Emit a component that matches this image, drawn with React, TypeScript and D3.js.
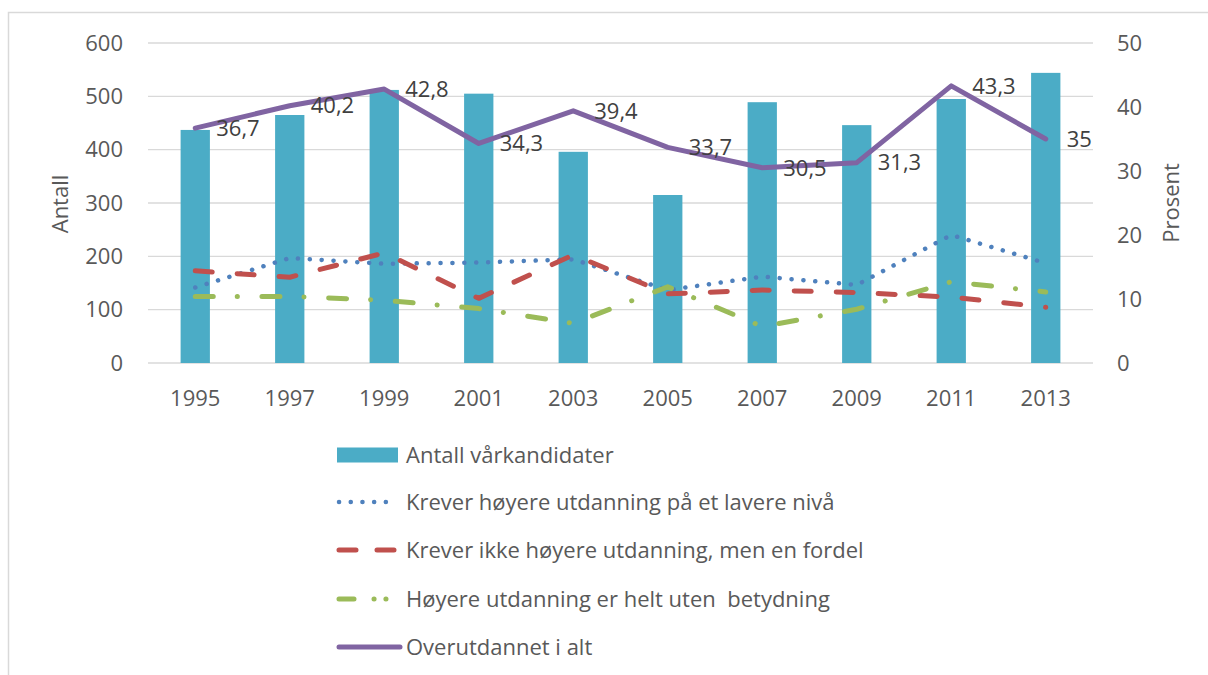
import React from "react";
import * as d3 from "d3";

const years = ["1995", "1997", "1999", "2001", "2003", "2005", "2007", "2009", "2011", "2013"];
const antall = [437, 465, 512, 505, 396, 315, 489, 446, 495, 544];
const laverNiva = [11.8, 16.4, 15.5, 15.7, 16.2, 11.4, 13.5, 12.2, 20.0, 15.6];
const ikkeMenFordel = [14.4, 13.4, 17.2, 10.1, 16.9, 10.8, 11.4, 11.0, 10.3, 8.7];
const utenBetydning = [10.4, 10.4, 9.8, 8.5, 6.2, 11.9, 5.7, 8.4, 12.7, 11.1];
const overutdannet = [36.7, 40.2, 42.8, 34.3, 39.4, 33.7, 30.5, 31.3, 43.3, 35];
const leftTicks = [0, 100, 200, 300, 400, 500, 600];
const rightTicks = [0, 10, 20, 30, 40, 50];
const legendLabels = [
  "Antall vårkandidater",
  "Krever høyere utdanning på et lavere nivå",
  "Krever ikke høyere utdanning, men en fordel",
  "Høyere utdanning er helt uten  betydning",
  "Overutdannet i alt",
];

const W = 1208;
const H = 675;
const FONT = "'Open Sans', sans-serif";
const FS = 22;
const TXT = "#595959";

export default function App() {
  const x = d3.scaleBand<string>().domain(years).range([148, 1093]).paddingInner(0.69).paddingOuter(0.345);
  const yL = d3.scaleLinear().domain([0, 600]).range([363, 43]);
  const yR = d3.scaleLinear().domain([0, 50]).range([363, 43]);
  const cx = (i: number) => (x(years[i]) as number) + x.bandwidth() / 2;
  const line = d3
    .line<number>()
    .x((_, i) => cx(i))
    .y((d) => yR(d));

  const lineSeries = [
    { data: laverNiva, color: "#4F81BD", dash: "0.1 11.8", width: 4.5 },
    { data: ikkeMenFordel, color: "#C0504D", dash: "17 25", width: 5 },
    { data: utenBetydning, color: "#9BBB59", dash: "18 24 0.1 24.6", width: 5 },
    { data: overutdannet, color: "#8064A2", dash: null as string | null, width: 5 },
  ];

  const fmt = (v: number) => String(v).replace(".", ",");
  const legendY = [455, 502, 550, 599, 647];

  return (
    <svg
      width={W}
      height={H}
      style={{ position: "absolute", left: 0, top: 0, background: "#fff" }}
      fontFamily={FONT}
    >
      <rect x={8.5} y={12.5} width={1300} height={700} fill="#fff" stroke="#D9D9D9" strokeWidth={1.5} />
      {leftTicks.map((t) => (
        <line key={"g" + t} x1={148} x2={1093} y1={yL(t)} y2={yL(t)} stroke="#D9D9D9" strokeWidth={1.3} />
      ))}
      {leftTicks.map((t) => (
        <text key={"l" + t} x={123} y={yL(t)} dy="0.35em" textAnchor="end" fontSize={FS} fill={TXT}>
          {t}
        </text>
      ))}
      {rightTicks.map((t) => (
        <text key={"r" + t} x={1117} y={yR(t)} dy="0.35em" textAnchor="start" fontSize={FS} fill={TXT}>
          {t}
        </text>
      ))}
      <text transform="translate(60,204) rotate(-90)" textAnchor="middle" dy="0.35em" fontSize={FS} fill={TXT}>
        Antall
      </text>
      <text transform="translate(1171,203) rotate(-90)" textAnchor="middle" dy="0.35em" fontSize={FS} fill={TXT}>
        Prosent
      </text>
      {years.map((yr, i) => (
        <text key={"x" + yr} x={cx(i)} y={398} dy="0.35em" textAnchor="middle" fontSize={FS} fill={TXT}>
          {yr}
        </text>
      ))}
      {antall.map((v, i) => (
        <rect
          key={"b" + i}
          x={x(years[i]) as number}
          y={yL(v)}
          width={x.bandwidth()}
          height={yL(0) - yL(v)}
          fill="#4BACC6"
        />
      ))}
      {lineSeries.map((s, k) => (
        <path
          key={"ln" + k}
          d={line(s.data) || ""}
          fill="none"
          stroke={s.color}
          strokeWidth={s.width}
          strokeDasharray={s.dash || undefined}
          strokeLinecap="round"
          strokeLinejoin="round"
        />
      ))}
      {overutdannet.map((v, i) => (
        <text key={"dl" + i} x={cx(i) + 21} y={yR(v)} dy="0.35em" fontSize={FS} fill="#404040">
          {fmt(v)}
        </text>
      ))}
      {/* legend */}
      <rect x={337} y={legendY[0] - 7.5} width={61} height={15} fill="#4BACC6" />
      {lineSeries.map((s, k) => (
        <line
          key={"lg" + k}
          x1={339}
          x2={k === 3 ? 400 : 397}
          y1={legendY[k + 1]}
          y2={legendY[k + 1]}
          stroke={s.color}
          strokeWidth={s.width}
          strokeDasharray={s.dash ? (k === 0 ? "0.1 11.6" : k === 1 ? "17 21" : "15 20 0.1 11.8 0.1 20") : undefined}
          strokeLinecap="round"
        />
      ))}
      {legendLabels.map((t, k) => (
        <text key={"lt" + k} x={406} y={legendY[k]} dy="0.35em" fontSize={FS} fill={TXT} style={{ whiteSpace: "pre" }}>
          {t}
        </text>
      ))}
    </svg>
  );
}
